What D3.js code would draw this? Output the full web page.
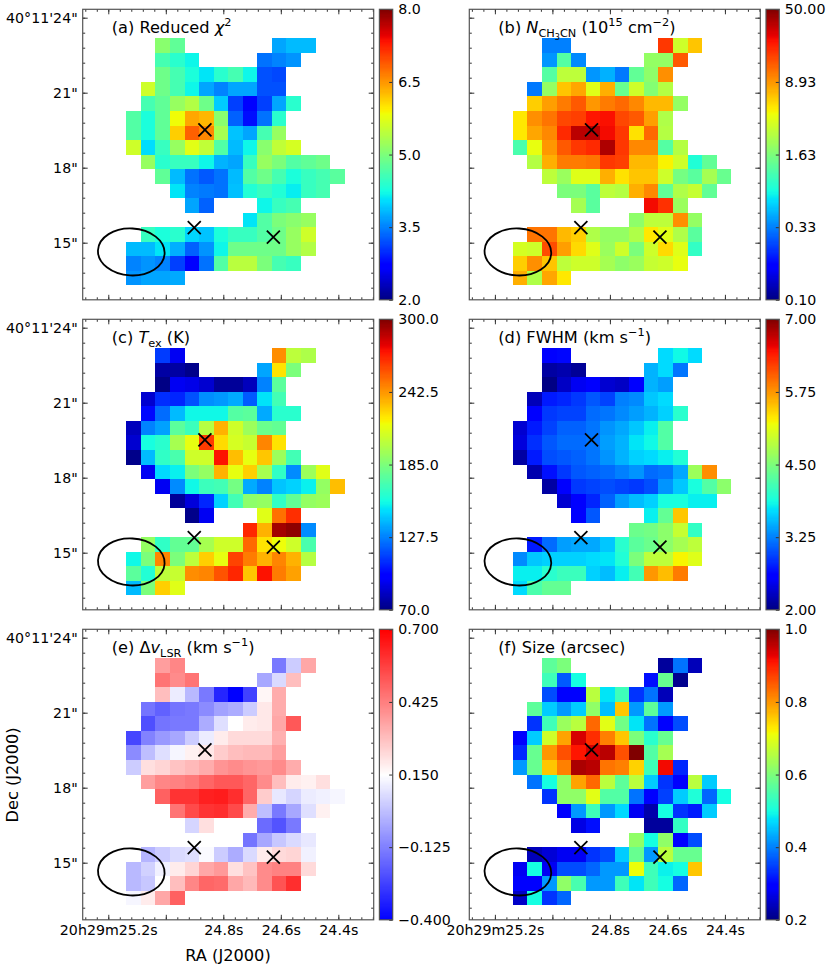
<!DOCTYPE html>
<html>
<head>
  <title>CH3CN maps</title>
  <script src="https://d3js.org/d3.v7.min.js"></script>
  <style>
    body { margin: 0; background: #fff; }
    text { font-family: "DejaVu Sans", sans-serif; fill: #000; }
    .cell { shape-rendering: crispEdges; }
    .frame { fill: none; stroke: #555; stroke-width: 1.2; }
    .tick line { stroke: #333; stroke-width: 1; }
    .domain { display: none; }
  </style>
</head>
<body>
  <script>
    var _ = null;

    // maps: 17 rows x 15 columns, rows top to bottom, columns east to west
    var chiValues = [
      [_,_,5.1,4.8,_,_,_,_,_,_,3.72,3.85,3.85,_,_],
      [_,_,4.6,4.4,4.2,_,_,_,_,3.42,3.52,3.62,_,_,_],
      [_,_,4.9,4.6,4.3,4.1,4.4,4.6,4.2,3.22,3.17,_,_,_,_],
      [_,5.6,4.9,4.6,4.2,3.72,3.52,3.72,3.72,3.22,3.22,_,_,_,_],
      [_,4.6,4.8,5.2,5.4,4.9,3.95,3.12,2.75,3.12,3.72,4.4,_,_,_],
      [4.7,4.3,4.8,5.85,6.4,6.3,5.1,3.32,2.82,3.42,4.4,_,_,_,_],
      [4.7,4.3,4.8,6.15,6.85,6.6,5.3,3.9,3.72,4.6,5.2,_,_,_,_],
      [5.6,4.05,4.5,5.2,5.75,5.5,4.7,3.85,4.2,5.1,5.5,5.65,_,_,_],
      [_,5.2,4.4,4.5,4.5,4.2,3.8,3.72,4.5,5.2,5.0,4.7,4.8,4.9,_],
      [_,_,4.8,3.85,3.42,3.27,3.42,3.85,4.7,4.9,4.6,4.3,4.5,4.6,4.75],
      [_,_,_,4.1,3.52,3.47,3.42,3.88,4.35,4.5,4.35,4.15,4.5,4.6,_],
      [_,_,_,_,3.72,3.32,_,_,_,4.2,4.5,4.6,_,_,_],
      [_,_,_,_,_,_,_,_,4.1,4.7,5.0,5.1,5.2,_,_],
      [_,4.5,4.3,4.4,4.0,3.9,4.3,4.5,4.5,4.7,4.9,5.2,5.6,_,_],
      [3.85,3.85,4.1,3.78,3.32,3.62,4.2,4.9,4.9,4.9,4.9,5.2,5.4,_,_],
      [3.52,3.62,3.52,3.12,2.75,3.42,4.7,5.45,5.45,5.0,4.6,4.5,_,_,_],
      [3.62,3.72,3.72,3.75,_,_,_,_,_,_,_,_,_,_,_]
    ];
    var columnValues = [
      [_,_,.33,.33,_,_,_,_,_,_,18,3.2,6.4,_,_],
      [_,_,.38,1.2,.35,_,_,_,_,2,2,14,_,_,_],
      [_,_,1.2,2.8,2.8,.38,.45,.32,1.33,1.9,9.5,_,_,_,_],
      [_,.32,2,6.4,8,3.7,7.5,1.4,3.2,1.75,2.6,_,_,_,_],
      [_,6,8.5,11,14,8.93,11,12.5,10,7,7,2,_,_,_],
      [5,9.5,11.5,16,17,23,24,16,14,8.5,2.5,_,_,_,_],
      [5,8,10,20,35,35,25,18,5.2,12.5,2.6,_,_,_,_],
      [1.1,4,8.93,14,18,20,38,18,10,10,1.2,2.6,_,_,_],
      [_,2.6,7.5,11,11,11.5,18,17,7,7,4.6,3.2,.8,1.33,_],
      [_,_,2.8,2.1,3.7,3.7,7.5,5.2,6.4,6.4,3.2,1.55,1.25,2.3,1.4],
      [_,_,_,1.63,1.63,1.25,2.8,2.6,7.5,10,1.33,2.5,3,1.33,_],
      [_,_,_,_,2.3,1.25,_,_,_,25,19,2.1,_,_,_],
      [_,_,_,_,_,_,_,_,1.9,2.8,2.8,9.5,2,_,_],
      [_,11.5,11.5,7,6,2.5,2,2,2.5,5,3.7,2.5,1.25,_,_],
      [3.4,3.2,15.5,8.5,5.5,3.7,2.1,3.2,1.63,3.2,5.5,3.7,.92,_,_],
      [6,9.5,6.4,2.8,3.2,3.2,2.3,1.9,2.1,3,3.2,4,_,_,_],
      [7.5,2.5,8,5,_,_,_,_,_,_,_,_,_,_,_]
    ];
    var tempValues = [
      [_,_,112,93,_,_,_,_,_,_,245,203,199,_,_],
      [_,_,77,77,72,_,_,_,_,136,224,185,_,_,_],
      [_,_,71,93,91,86,75,75,82,128,176,_,_,_,_],
      [_,86,109,107,117,131,133,137,119,150,169,_,_,_,_],
      [_,100,123,141,155,155,155,174,176,137,162,162,_,_,_],
      [82,128,135,176,167,201,236,208,194,180,178,_,_,_,_],
      [86,157,162,197,215,265,226,210,206,247,224,_,_,_,_],
      [72,141,164,171,208,208,275,233,215,231,194,169,_,_,_],
      [_,93,148,153,185,192,236,215,229,197,164,130,194,213,_],
      [_,_,93,130,155,167,169,183,137,128,143,146,153,192,233],
      [_,_,_,75,88,107,146,169,190,192,164,178,192,194,_],
      [_,_,_,_,72,93,_,_,_,213,252,268,_,_,_],
      [_,_,_,_,_,_,_,_,270,236,293,297,130,_,_],
      [_,192,164,178,178,197,208,208,254,224,217,208,171,_,_],
      [155,185,247,185,203,229,215,263,249,236,247,236,201,_,_],
      [176,160,203,206,245,247,259,270,231,275,249,240,_,_,_],
      [141,185,229,213,_,_,_,_,_,_,_,_,_,_,_]
    ];
    var fwhmValues = [
      [_,_,2.55,2.65,_,_,_,_,_,_,3.7,3.85,3.7,_,_],
      [_,_,2.15,2.2,2.1,_,_,_,_,3.5,3.7,3.2,_,_,_],
      [_,_,2.02,2.3,2.5,2.55,2.35,2.3,2.6,3.5,3.4,_,_,_,_],
      [_,2.25,2.75,2.8,2.9,3.05,2.95,3.25,3.3,3.6,3.7,_,_,_,_],
      [_,2.55,2.9,2.95,2.95,3.15,3.2,3.3,3.4,3.5,3.65,4,_,_,_],
      [2.35,2.75,2.95,3.1,3.1,3.2,3.35,3.45,3.6,3.8,4.25,_,_,_,_],
      [2.4,2.85,3.05,3.15,3.15,3.2,3.4,3.5,3.75,3.85,4.25,_,_,_,_],
      [2.15,2.75,3,3.05,3.1,3.2,3.35,3.5,3.65,3.7,3.8,3.95,_,_,_],
      [_,2.2,2.7,2.9,3.05,3.1,3.15,3.25,3.35,3.15,3.2,3.45,4.7,5.8,_],
      [_,_,2.15,2.6,2.9,2.95,3,2.95,2.9,3,3.35,3.6,3.9,4.25,4.6],
      [_,_,_,2.35,2.55,2.8,3.1,3.4,3.55,3.65,3.9,3.9,3.8,3.8,_],
      [_,_,_,_,2.6,3.05,_,_,_,3.8,4.35,5.5,_,_,_],
      [_,_,_,_,_,_,_,_,4.4,4.45,4.6,4.95,4.05,_,_],
      [_,2.75,3.15,3.4,3.45,3.45,3.6,4,4.3,4.4,4.6,4.75,4.9,_,_],
      [3.3,3.6,3.65,3.65,3.65,3.7,3.75,3.95,4.5,4.9,4.9,5.25,5.1,_,_],
      [3.8,3.8,4,4.1,4.1,3.65,3.55,3.8,4.15,5.75,5.55,5.9,_,_,_],
      [3.7,4.2,4.35,4.35,_,_,_,_,_,_,_,_,_,_,_]
    ];
    var shiftValues = [
      [_,_,.36,.41,_,_,_,_,_,_,-.14,.04,.34,_,_],
      [_,_,.45,.4,.45,_,_,_,_,-.04,.07,.29,_,_,_],
      [_,_,.29,.11,0,-.14,-.32,-.4,-.26,.17,.33,_,_,_,_],
      [_,-.15,-.19,-.15,-.14,-.1,-.05,-.03,.04,.2,.33,_,_,_,_],
      [_,-.23,-.15,-.14,-.14,-.03,.08,.15,.19,.2,.34,.51,_,_,_],
      [-.25,-.12,-.07,-.04,.04,.11,.19,.23,.23,.23,.32,_,_,_,_],
      [-.1,.01,.08,.13,.18,.2,.26,.29,.3,.3,.36,_,_,_,_],
      [.04,.22,.24,.28,.3,.33,.38,.4,.38,.37,.4,.33,_,_,_],
      [_,.36,.41,.42,.44,.48,.51,.51,.48,.4,.29,.19,.18,.22,_],
      [_,_,.49,.59,.59,.63,.64,.6,.48,.26,.1,.06,.11,.12,.13],
      [_,_,_,.45,.54,.59,.6,.54,.33,.01,-.14,-.04,.08,.18,_],
      [_,_,_,_,.06,.22,_,_,_,-.17,-.22,-.14,_,_,_],
      [_,_,_,_,_,_,_,_,-.15,-.04,.03,.07,.1,_,_],
      [_,-.01,.04,.07,.08,.14,.04,-.03,.07,.19,.23,.24,.12,_,_],
      [0,.05,.12,.19,.24,.34,.37,.22,.28,.4,.42,.42,.23,_,_],
      [0,.03,.15,.29,.41,.48,.47,.34,.3,.4,.52,.6,_,_,_],
      [.13,.19,.34,.49,_,_,_,_,_,_,_,_,_,_,_]
    ];
    var sizeValues = [
      [_,_,.57,.6,_,_,_,_,_,_,.22,.39,.24,_,_],
      [_,_,.54,.37,.5,_,_,_,_,.31,.58,.21,_,_,_],
      [_,_,.36,.3,.3,.66,.48,.54,.34,.39,.24,_,_,_,_],
      [_,.57,.46,.42,.46,.62,.45,.76,.42,.57,.42,_,_,_,_],
      [_,.34,.54,.63,.66,.84,.7,.59,.48,.39,.3,.36,_,_,_],
      [.3,.46,.68,.79,.94,.89,.82,.76,.6,.52,.58,_,_,_,_],
      [.33,.58,.8,.86,.91,.94,.96,.86,1,.56,.64,_,_,_,_],
      [.42,.58,.76,.82,.97,.96,.83,.82,.75,.54,.92,.33,_,_,_],
      [_,.39,.5,.62,.79,.84,.66,.57,.66,.46,.34,.3,.66,.46,_],
      [_,_,.34,.62,.62,.7,.56,.56,.39,.3,.35,.46,.51,.38,.5],
      [_,_,_,.3,.42,.54,.42,.47,.28,.23,.5,.34,.32,.46,_],
      [_,_,_,_,.27,.31,_,_,_,.22,.22,.53,_,_,_],
      [_,_,_,_,_,_,_,_,.62,.5,.62,.29,.36,_,_],
      [_,.24,.26,.28,.28,.34,.36,.46,.58,.42,.66,.58,.58,_,_],
      [.28,.5,.28,.36,.36,.38,.42,.42,.71,.54,.49,.5,.76,_,_],
      [.3,.29,.42,.62,.55,.42,.42,.54,.48,.54,.5,.38,_,_,_],
      [.25,.5,.34,.38,_,_,_,_,_,_,_,_,_,_,_]
    ];

    // colour bar ticks, bottom to top
    var chiTicks = [2, 3.5, 5, 6.5, 8];
    var columnTicks = [0.1, 0.33, 1.63, 8.93, 50];
    var tempTicks = [70, 127.5, 185, 242.5, 300];
    var fwhmTicks = [2, 3.25, 4.5, 5.75, 7];
    var shiftTicks = [-0.4, -0.125, 0.15, 0.425, 0.7];
    var sizeTicks = [0.2, 0.4, 0.6, 0.8, 1];

    // Dec (arcsec past 40d11') and RA (seconds past 20h29m)
    var decTicks = [24, 21, 18, 15];
    var raTicks = [25.2, 25.0, 24.8, 24.6, 24.4];
    var crossRa = [24.864, 24.901, 24.626];
    var crossDec = [19.51, 15.60, 15.22];
    var beam = {ra: 25.12, dec: 14.63, rx: 1.74, ry: 0.94, angle: 3};

    var jetR = d3.scaleLinear().domain([0, .35, .66, .89, 1]).range([0, 0, 1, 1, .5]).clamp(true);
    var jetG = d3.scaleLinear().domain([0, .125, .375, .64, .91, 1]).range([0, 0, 1, 1, 0, 0]).clamp(true);
    var jetB = d3.scaleLinear().domain([0, .11, .34, .65, 1]).range([.5, 1, 1, 0, 0]).clamp(true);
    function jet(t) {
      return d3.rgb(jetR(t) * 255, jetG(t) * 255, jetB(t) * 255) + "";
    }
    var bwr = d3.scaleLinear().domain([0, .5, 1]).range(["#0000ff", "#ffffff", "#ff0000"]).clamp(true);

    var panels = [
      {values: chiValues, ticks: chiTicks, fmt: d3.format(".1f"), color: jet, col: 0, row: 0,
       title: [["(a) Reduced "], ["χ", "i"], ["2", "sup"]]},
      {values: columnValues, ticks: columnTicks, fmt: d3.format(".2f"), color: jet, col: 1, row: 0, log: true,
       title: [["(b) "], ["N", "i"], ["CH", "sub"], ["3", "subsub"], ["CN", "sub"], [" (10"], ["15", "sup"], [" cm"], ["−2", "sup"], [")"]]},
      {values: tempValues, ticks: tempTicks, fmt: d3.format(".1f"), color: jet, col: 0, row: 1,
       title: [["(c) "], ["T", "i"], ["ex", "sub"], [" (K)"]]},
      {values: fwhmValues, ticks: fwhmTicks, fmt: d3.format(".2f"), color: jet, col: 1, row: 1,
       title: [["(d) FWHM (km s"], ["−1", "sup"], [")"]]},
      {values: shiftValues, ticks: shiftTicks, fmt: d3.format(".3f"), color: bwr, col: 0, row: 2,
       title: [["(e) Δ"], ["v", "i"], ["LSR", "sub"], [" (km s"], ["−1", "sup"], [")"]]},
      {values: sizeValues, ticks: sizeTicks, fmt: d3.format(".1f"), color: jet, col: 1, row: 2,
       title: [["(f) Size (arcsec)"]]}
    ];

    var width = 291, height = 290.5;
    var lefts = [82.7, 469.3], tops = [9.3, 319.3, 629.3];

    var svg = d3.select("body").append("svg")
        .attr("width", 831)
        .attr("height", 971);

    var x = d3.scaleLinear().domain([25.289, 24.277]).range([0, width]);
    var y = d3.scaleLinear().domain([24.336, 12.716]).range([0, height]);
    var cellX = d3.scaleBand().domain(d3.range(20)).range([0, width]);
    var cellY = d3.scaleBand().domain(d3.range(20)).range([0, height]);

    var raMinor = d3.range(0, 26).map(function(i) { return 25.28 - i * 0.04; })
        .filter(function(d) { return d >= 24.277; });
    var decMinor = d3.range(0, 20).map(function(i) { return 24 - i * 0.6; })
        .filter(function(d) { return d >= 12.716; });

    function raLabel(d) {
      if (d === 25.2) return "20h29m25.2s";
      if (d === 25.0) return "";
      return d.toFixed(1) + "s";
    }
    function decLabel(d) {
      return d === 24 ? "40°11'24\"" : d + "\"";
    }

    function drawAxes(g, p) {
      var showX = p.row === 2, showY = p.col === 0;
      var sides = [
        {axis: d3.axisBottom, scale: x, major: raTicks, minor: raMinor, at: [0, height], show: showX, fmt: raLabel},
        {axis: d3.axisTop, scale: x, major: raTicks, minor: raMinor, at: [0, 0], show: false},
        {axis: d3.axisLeft, scale: y, major: decTicks, minor: decMinor, at: [0, 0], show: showY, fmt: decLabel},
        {axis: d3.axisRight, scale: y, major: decTicks, minor: decMinor, at: [width, 0], show: false}
      ];
      sides.forEach(function(s) {
        g.append("g")
            .attr("transform", "translate(" + s.at + ")")
            .call(s.axis(s.scale).tickValues(s.minor).tickSize(-2.5).tickFormat(""));
        var a = g.append("g")
            .attr("transform", "translate(" + s.at + ")")
            .call(s.axis(s.scale).tickValues(s.major).tickSize(-5).tickPadding(5)
              .tickFormat(s.show ? s.fmt : ""));
        a.selectAll("text").style("font-size", "14.2px").style("font-family", "DejaVu Sans");
      });
      g.append("rect").attr("class", "frame").attr("width", width).attr("height", height);
    }

    function drawTitle(g, parts) {
      var t = g.append("text")
          .attr("x", 29)
          .attr("y", 23.5)
          .style("font-size", "16.2px");
      var cur = 0;
      var shift = {sup: -6.5, sub: 4, subsub: 7};
      var size = {sup: "11.3px", sub: "11.3px", subsub: "8px"};
      parts.forEach(function(part) {
        var off = shift[part[1]] || 0;
        var s = t.append("tspan").attr("dy", off - cur).text(part[0]);
        if (part[1] === "i") s.style("font-style", "italic");
        if (size[part[1]]) s.style("font-size", size[part[1]]);
        cur = off;
      });
    }

    panels.forEach(function(p) {
      var g = svg.append("g")
          .attr("transform", "translate(" + lefts[p.col] + "," + tops[p.row] + ")");

      var n = p.ticks.length - 1;
      var stops = d3.range(n + 1).map(function(i) { return i / n; });
      var norm = (p.log ? d3.scaleLog() : d3.scaleLinear()).domain(p.ticks).range(stops).clamp(true);

      // the map
      var cells = [];
      p.values.forEach(function(row, r) {
        row.forEach(function(v, c) {
          if (v !== null) cells.push({r: r + 2, c: c + 3, v: v});
        });
      });
      g.selectAll("rect.cell")
          .data(cells)
          .enter().append("rect")
          .attr("class", "cell")
          .attr("x", function(d) { return cellX(d.c); })
          .attr("y", function(d) { return cellY(d.r); })
          .attr("width", cellX.bandwidth())
          .attr("height", cellY.bandwidth())
          .attr("fill", function(d) { return p.color(norm(d.v)); });

      // beam and the three sources
      g.append("ellipse")
          .attr("rx", x(beam.ra - beam.rx / 15) - x(beam.ra))
          .attr("ry", y(beam.dec - beam.ry) - y(beam.dec))
          .attr("transform", "translate(" + x(beam.ra) + "," + y(beam.dec) + ") rotate(" + beam.angle + ")")
          .attr("fill", "none")
          .attr("stroke", "#000")
          .attr("stroke-width", 1.8);

      g.selectAll("path.cross")
          .data(crossRa)
          .enter().append("path")
          .attr("class", "cross")
          .attr("transform", function(d, i) { return "translate(" + x(d) + "," + y(crossDec[i]) + ")"; })
          .attr("d", "M-6.5,-6.5L6.5,6.5M-6.5,6.5L6.5,-6.5")
          .attr("stroke", "#000")
          .attr("stroke-width", 1.8);

      drawAxes(g, p);
      drawTitle(g, p.title);

      // colour bar
      var barX = 296.7, barW = 13.3;
      var barY = d3.scaleLinear().domain([0, 1]).range([height, 0]);
      g.selectAll("rect.bar")
          .data(d3.range(256))
          .enter().append("rect")
          .attr("class", "cell bar")
          .attr("x", barX)
          .attr("y", function(d) { return barY((d + 1) / 256); })
          .attr("width", barW)
          .attr("height", height / 256 + 0.5)
          .attr("fill", function(d) { return p.color((d + 0.5) / 256); });
      var barAxis = g.append("g")
          .attr("transform", "translate(" + (barX + barW) + ",0)")
          .call(d3.axisRight(barY).tickValues(stops).tickSize(-3.5).tickPadding(5.5)
            .tickFormat(function(d, i) { return p.fmt(p.ticks[i]).replace("-", "−"); }));
      barAxis.selectAll("text").style("font-size", "14.2px").style("font-family", "DejaVu Sans");
      g.append("rect").attr("class", "frame").attr("x", barX).attr("width", barW).attr("height", height);
    });

    svg.append("text")
        .attr("x", 228).attr("y", 961)
        .attr("text-anchor", "middle")
        .style("font-size", "16.2px")
        .text("RA (J2000)");
    svg.append("text")
        .attr("transform", "translate(17.5,775) rotate(-90)")
        .attr("text-anchor", "middle")
        .style("font-size", "16.2px")
        .text("Dec (J2000)");
  </script>
</body>
</html>
